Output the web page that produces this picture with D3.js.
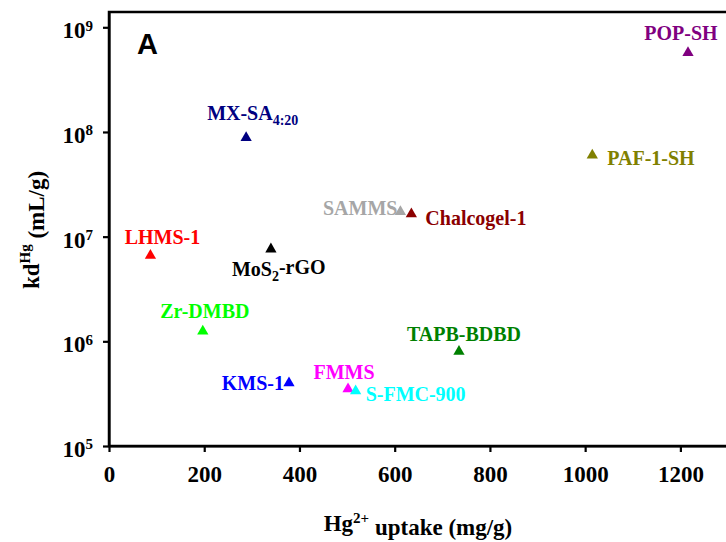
<!DOCTYPE html>
<html>
<head>
<meta charset="utf-8">
<script src="https://cdn.jsdelivr.net/npm/d3@7"></script>
<style>
  body { margin: 0; background: #fff; }
  svg text { font-family: "Liberation Serif", "Times New Roman", serif; font-weight: bold; }
</style>
</head>
<body>
<svg id="chart" width="726" height="542"></svg>
<script>
// material names, Hg uptake (mg/g) and distribution coefficient kd (mL/g)
var names = ["POP-SH", "PAF-1-SH", "MX-SA", "LHMS-1", "MoS2-rGO", "SAMMS", "Chalcogel-1",
             "Zr-DMBD", "KMS-1", "FMMS", "S-FMC-900", "TAPB-BDBD"];
var uptake = [1216, 1015, 288, 87, 340, 612, 635, 197, 378, 502, 518, 735];
var kd = [5.7e8, 6.0e7, 8.8e7, 6.6e6, 7.6e6, 1.73e7, 1.65e7, 1.25e6, 4.0e5, 3.5e5, 3.35e5, 8.0e5];
var colors = ["#800080", "#808000", "#000080", "#ff0000", "#000000", "#a6a6a6", "#8b0000",
              "#00ff00", "#0000ff", "#ff00ff", "#00ffff", "#008000"];
var xTicks = [0, 200, 400, 600, 800, 1000, 1200];
var yTicks = [1e5, 1e6, 1e7, 1e8, 1e9];

// label placement relative to each point: dx, dy, anchor
var labelPos = [
  [-7, -13, "middle"], [15, 10, "start"], [-39, -18, "start"], [12, -12, "middle"],
  [-39, 27, "start"], [-3, 3, "end"], [14, 11, "start"], [2, -13, "middle"],
  [-5, 7, "end"], [-4, -10, "middle"], [10, 10, "start"], [5, -10, "middle"]
];

var margin = {top: 12, left: 109, right: 728, bottom: 446};
var svg = d3.select("#chart");

var x = d3.scaleLinear().domain([0, 1300]).range([margin.left, margin.right]);
var y = d3.scaleLog().domain([1e5, 1.4e9]).range([margin.bottom, margin.top]);

// frame
svg.append("rect")
  .attr("x", margin.left).attr("y", margin.top)
  .attr("width", margin.right - margin.left)
  .attr("height", margin.bottom - margin.top)
  .attr("fill", "none").attr("stroke", "#000").attr("stroke-width", 2.5);

var xAxis = svg.append("g")
  .attr("transform", "translate(0," + margin.bottom + ")")
  .call(d3.axisBottom(x).tickValues(xTicks).tickFormat(d3.format("d"))
    .tickSize(6).tickPadding(14).tickSizeOuter(0));
xAxis.selectAll("text").style("font-size", "23px").attr("fill", "#000");

var yAxis = svg.append("g")
  .attr("transform", "translate(" + margin.left + ",0)")
  .call(d3.axisLeft(y).tickValues(yTicks).tickSize(6).tickPadding(10).tickSizeOuter(0)
    .tickFormat(function() { return ""; }));
yAxis.selectAll(".tick text").each(function(d) {
  var t = d3.select(this).style("font-size", "23px").attr("fill", "#000").attr("dy", "0.45em");
  t.append("tspan").text("10");
  t.append("tspan").attr("dy", "-0.5em").style("font-size", "15px").text(Math.round(Math.log10(d)));
});

svg.selectAll(".domain, .tick line").attr("stroke", "#000").attr("stroke-width", 2.2);

// axis titles
var xt = svg.append("text").attr("x", 418).attr("y", 531)
  .attr("text-anchor", "middle").style("font-size", "23px");
xt.append("tspan").text("Hg");
xt.append("tspan").attr("dy", "-0.55em").style("font-size", "15px").text("2+");
xt.append("tspan").attr("dy", "0.55em").text(" uptake (mg/g)");

var yt = svg.append("text").attr("transform", "translate(39,230) rotate(-90)")
  .attr("text-anchor", "middle").style("font-size", "23px");
yt.append("tspan").text("kd");
yt.append("tspan").attr("dy", "-0.6em").style("font-size", "15px").text("Hg");
yt.append("tspan").attr("dy", "0.6em").text(" (mL/g)");

svg.append("text").attr("x", 137).attr("y", 54)
  .style("font-family", "'Liberation Sans', Arial, sans-serif")
  .style("font-size", "29px").text("A");

// points
var idx = d3.range(names.length);
svg.selectAll("path.pt")
  .data(idx).enter().append("path")
  .attr("class", "pt")
  .attr("d", d3.symbol().type(d3.symbolTriangle).size(55))
  .attr("transform", function(i) { return "translate(" + x(uptake[i]) + "," + y(kd[i]) + ")"; })
  .attr("fill", function(i) { return colors[i]; });

// labels
svg.selectAll("text.lbl")
  .data(idx).enter().append("text")
  .attr("class", "lbl")
  .attr("x", function(i) { return x(uptake[i]) + labelPos[i][0]; })
  .attr("y", function(i) { return y(kd[i]) + labelPos[i][1]; })
  .attr("text-anchor", function(i) { return labelPos[i][2]; })
  .attr("fill", function(i) { return colors[i]; })
  .style("font-size", "20px")
  .each(function(i) {
    var t = d3.select(this);
    if (names[i] == "MX-SA") {
      t.append("tspan").text("MX-SA");
      t.append("tspan").attr("dy", "0.35em").style("font-size", "14px").text("4:20");
    } else if (names[i] == "MoS2-rGO") {
      t.append("tspan").text("MoS");
      t.append("tspan").attr("dy", "0.35em").style("font-size", "14px").text("2");
      t.append("tspan").attr("dy", "-0.35em").text("-rGO");
    } else {
      t.text(names[i]);
    }
  });
</script>
</body>
</html>
